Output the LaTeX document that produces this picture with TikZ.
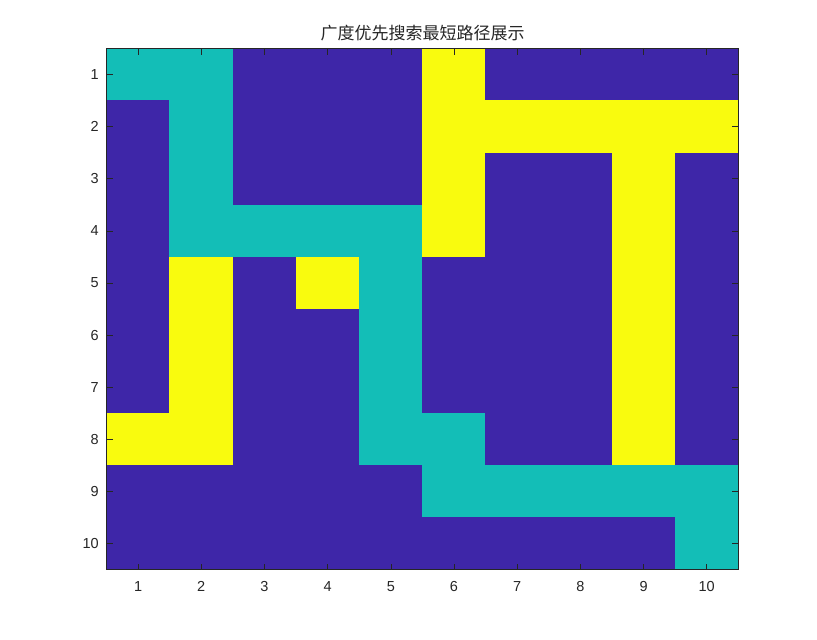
\documentclass[tikz,border=0pt]{standalone}
\usepackage{fontspec}
\setmainfont{Liberation Sans}
\newfontfamily\cjk{Noto Sans CJK SC}
\definecolor{cB}{RGB}{62,38,168}
\definecolor{cC}{RGB}{19,190,183}
\definecolor{cY}{RGB}{249,251,14}
\definecolor{axgray}{RGB}{38,38,38}
\begin{document}
\begin{tikzpicture}[x=1pt,y=-1pt,
  ticklab/.style={font=\fontsize{14.5}{14.5}\selectfont, text=axgray, inner sep=0pt},
  axline/.style={draw=axgray, line width=0.6pt}]
\useasboundingbox (0,0) rectangle (817,640);
\fill[white] (0,0) rectangle (817,640);
\def\xa{106.5}\def\ya{48.5}\def\cw{63.18}\def\ch{52.1}
\foreach \r/\row in {
 1/{C,C,B,B,B,Y,B,B,B,B},
 2/{B,C,B,B,B,Y,Y,Y,Y,Y},
 3/{B,C,B,B,B,Y,B,B,Y,B},
 4/{B,C,C,C,C,Y,B,B,Y,B},
 5/{B,Y,B,Y,C,B,B,B,Y,B},
 6/{B,Y,B,B,C,B,B,B,Y,B},
 7/{B,Y,B,B,C,B,B,B,Y,B},
 8/{Y,Y,B,B,C,C,B,B,Y,B},
 9/{B,B,B,B,B,C,C,C,C,C},
 10/{B,B,B,B,B,B,B,B,B,C}}{
  \foreach \v [count=\c] in \row {
    \fill[c\v] ({\xa+(\c-1)*\cw-0.2},{\ya+(\r-1)*\ch-0.2}) rectangle ({\xa+\c*\cw+0.2},{\ya+\r*\ch+0.2});
  }
}
\draw[axline] (\xa,\ya) rectangle ({\xa+10*\cw},{\ya+10*\ch});
\foreach \i in {1,...,10}{
  \draw[axline] ({\xa+(\i-0.5)*\cw},\ya) -- ++(0,6);
  \draw[axline] ({\xa+(\i-0.5)*\cw},{\ya+10*\ch}) -- ++(0,-6);
  \draw[axline] (\xa,{\ya+(\i-0.5)*\ch}) -- ++(6,0);
  \draw[axline] ({\xa+10*\cw},{\ya+(\i-0.5)*\ch}) -- ++(-6,0);
  \node[ticklab, anchor=north] (xt\i) at ({\xa+(\i-0.5)*\cw},581) {\i};
  \node[ticklab, anchor=east] (yt\i) at (99,{\ya+(\i-0.5)*\ch}) {\i};
}
\node[font=\cjk\fontsize{17}{17}\selectfont, text=axgray, inner sep=0pt] (title) at (422.5,33) {广度优先搜索最短路径展示};
\end{tikzpicture}
\end{document}
